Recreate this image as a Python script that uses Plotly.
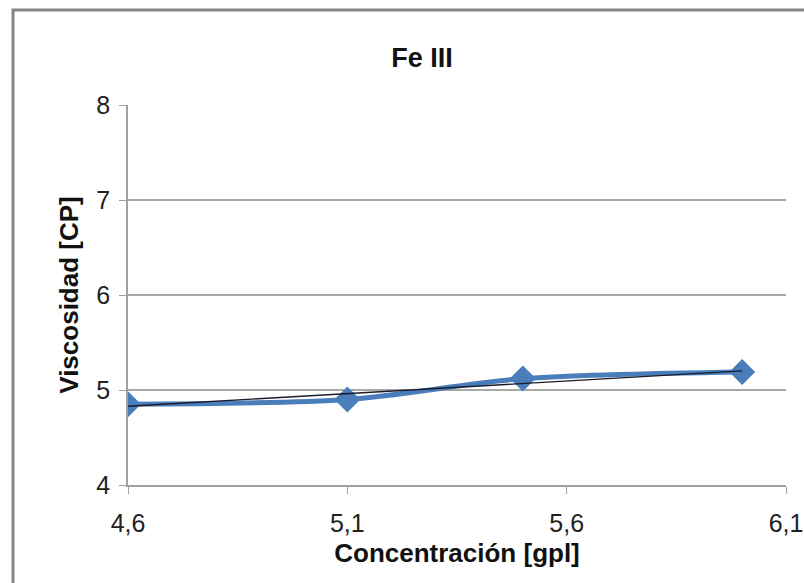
import numpy as np
import plotly.graph_objects as go

# Viscosity of the Fe III solution versus concentration
concentracion = [4.6, 5.1, 5.5, 6.0]
viscosidad = [4.85, 4.90, 5.12, 5.19]

x_ticks = [4.6, 5.1, 5.6, 6.1]
y_ticks = [4, 5, 6, 7, 8]

W, H = 804, 583
L, R, T, B = 128, 18, 105, 98
pw, ph = W - L - R, H - T - B

# Linear trend through the measured points
slope, intercept = np.polyfit(concentracion, viscosidad, 1)
trend_x = [min(concentracion), max(concentracion)]
trend_y = [slope * v + intercept for v in trend_x]

fig = go.Figure()
fig.add_trace(go.Scatter(
    x=concentracion, y=viscosidad, mode="lines+markers",
    line=dict(color="#4a7ebb", width=5, shape="spline", smoothing=0.8),
    marker=dict(symbol="diamond", size=20, color="#4a7ebb"),
    showlegend=False,
))
fig.add_trace(go.Scatter(
    x=trend_x, y=trend_y, mode="lines",
    line=dict(color="#1a1a2a", width=1.4),
    showlegend=False,
))

def px_x(p):
    return (p - L) / pw

def px_y(p):
    return (H - B - p) / ph

# Outer chart frame
fig.add_shape(
    type="rect", xref="paper", yref="paper",
    x0=px_x(13), x1=px_x(W + 20), y0=px_y(H + 20), y1=px_y(10),
    line=dict(color="#858585", width=3), layer="below",
)

font = "Liberation Sans, Arial, sans-serif"
fig.update_layout(
    width=W, height=H,
    margin=dict(l=L, r=R, t=T, b=B, autoexpand=False),
    paper_bgcolor="white", plot_bgcolor="white",
    separators=", ",
    font=dict(family=font, color="#1a1a1a", size=26),
    title=dict(text="<b>Fe III</b>", x=422 / W, xanchor="center",
               y=1 - 58 / H, yanchor="middle", xref="container", yref="container",
               font=dict(family=font, size=27, color="#111")),
    xaxis=dict(
        range=[4.6, 6.1], tickvals=x_ticks, tickformat=".1f",
        showgrid=False, zeroline=False, automargin=False,
        showline=True, linecolor="#a0a0a0", linewidth=1.5,
        ticks="outside", ticklen=7, tickcolor="#a0a0a0",
        ticklabelstandoff=8,
        tickfont=dict(family=font, size=25, color="#222"),
        title=dict(text="<b>Concentración [gpl]</b>", standoff=8,
                   font=dict(family=font, size=26, color="#111")),
    ),
    yaxis=dict(
        range=[4, 8], tickvals=y_ticks,
        showgrid=True, gridcolor="#a8a8a8", gridwidth=1.5, zeroline=False,
        automargin=False,
        showline=True, linecolor="#a0a0a0", linewidth=1.5,
        ticks="outside", ticklen=7, tickcolor="#a0a0a0",
        ticklabelstandoff=4,
        tickfont=dict(family=font, size=25, color="#222"),
        title=dict(text="<b>Viscosidad [CP]</b>", standoff=10,
                   font=dict(family=font, size=26, color="#111")),
    ),
)

fig.write_html("out.html")
